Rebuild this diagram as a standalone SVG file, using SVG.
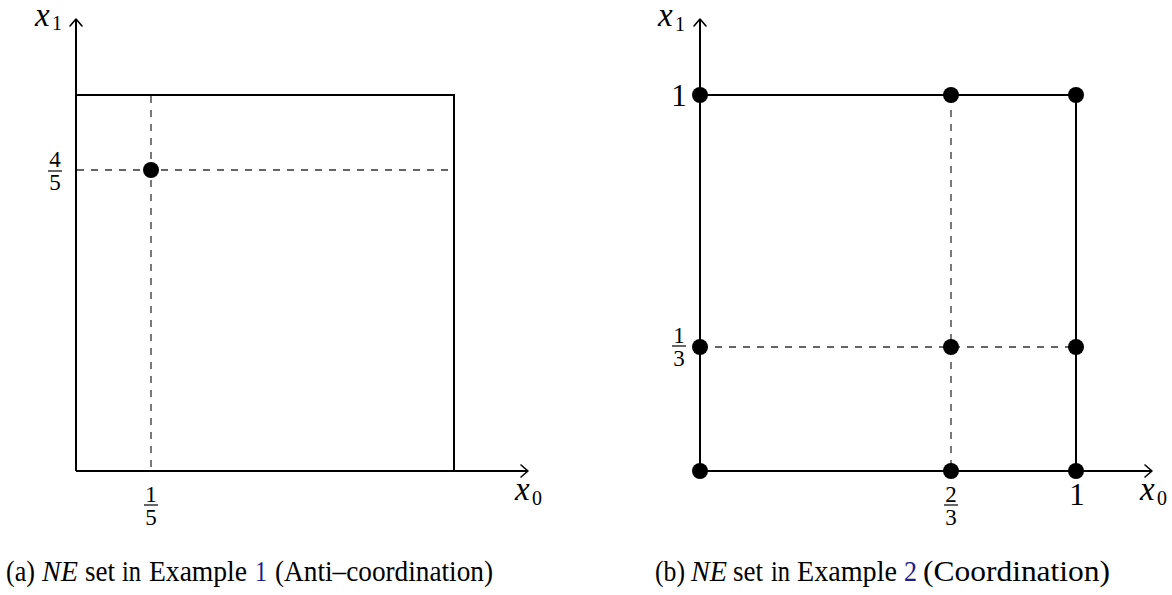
<svg xmlns="http://www.w3.org/2000/svg" width="1172" height="595" viewBox="0 0 1172 595">
<style>
.ax{fill:none;stroke:#000;stroke-width:2}
.arr{fill:none;stroke:#000;stroke-width:1.6;stroke-linecap:round;stroke-linejoin:round}
.dash{fill:none;stroke:#333;stroke-width:1.3;stroke-dasharray:7 7}
.dot{fill:#000}
.m{font-family:"Liberation Serif",serif;font-size:31px;fill:#000}
.mi{font-family:"Liberation Serif",serif;font-size:33px;font-style:italic;fill:#000}
.sub{font-family:"Liberation Serif",serif;font-size:20px;fill:#000}
.fr{font-family:"Liberation Serif",serif;font-size:23px;fill:#000;text-anchor:middle}
.bar{stroke:#000;stroke-width:1.2}
.cap{font-family:"Liberation Serif",serif;font-size:29px;fill:#000}
.it{font-style:italic}
.ref{fill:#1c1c8a}
</style>
<g id="connectors">
<line class="dash" x1="151" y1="96" x2="151" y2="470"/>
<line class="dash" x1="77" y1="170" x2="453" y2="170"/>
<path class="ax" d="M76 471 V20"/>
<path class="ax" d="M76 471 H527"/>
<path class="ax" d="M76 95 H454 V471"/>
<path class="arr" d="M70 26 L76 19 L82 26"/>
<path class="arr" d="M521 465 L528 471 L521 477"/>
<line class="dash" x1="951" y1="96" x2="951" y2="470"/>
<line class="dash" x1="701" y1="347" x2="1075" y2="347"/>
<path class="ax" d="M700 471 V20"/>
<path class="ax" d="M700 471 H1151"/>
<path class="ax" d="M700 95 H1076 V471"/>
<path class="arr" d="M694 26 L700 19 L706 26"/>
<path class="arr" d="M1145 465 L1152 471 L1145 477"/>
</g>
<g id="panel-a">
<g id="a-x1"><text class="mi" x="35" y="26">x</text><text class="sub" x="52" y="30">1</text></g>
<g id="a-x0"><text class="mi" x="515" y="500">x</text><text class="sub" x="532" y="505">0</text></g>
<g id="a-frac45"><text class="fr" x="55" y="167">4</text><line class="bar" x1="48" y1="171" x2="62" y2="171"/><text class="fr" x="55" y="190">5</text></g>
<g id="a-frac15"><text class="fr" x="151" y="502">1</text><line class="bar" x1="144" y1="505" x2="158" y2="505"/><text class="fr" x="151" y="525">5</text></g>
<g id="a-ne"><circle class="dot" cx="151" cy="170" r="8"/></g>
</g>
<g id="panel-b">
<g id="b-x1"><text class="mi" x="658" y="26">x</text><text class="sub" x="675" y="31">1</text></g>
<g id="b-x0"><text class="mi" x="1140" y="500">x</text><text class="sub" x="1157" y="505">0</text></g>
<g id="b-one-y"><text class="m" x="679" y="106" text-anchor="middle">1</text></g>
<g id="b-one-x"><text class="m" x="1077" y="505" text-anchor="middle">1</text></g>
<g id="b-frac13"><text class="fr" x="679" y="343">1</text><line class="bar" x1="672" y1="346" x2="686" y2="346"/><text class="fr" x="679" y="366">3</text></g>
<g id="b-frac23"><text class="fr" x="951" y="502">2</text><line class="bar" x1="944" y1="505" x2="958" y2="505"/><text class="fr" x="951" y="525">3</text></g>
<g id="b-ne">
<circle class="dot" cx="700" cy="95" r="8"/><circle class="dot" cx="951" cy="95" r="8"/><circle class="dot" cx="1076" cy="95" r="8"/>
<circle class="dot" cx="700" cy="347" r="8"/><circle class="dot" cx="951" cy="347" r="8"/><circle class="dot" cx="1076" cy="347" r="8"/>
<circle class="dot" cx="700" cy="471" r="8"/><circle class="dot" cx="951" cy="471" r="8"/><circle class="dot" cx="1076" cy="471" r="8"/>
</g>
</g>
<g id="caption-a">
<text class="cap" x="6" y="581" textLength="29" lengthAdjust="spacingAndGlyphs">(a)</text>
<text class="cap it" x="42" y="581" textLength="36" lengthAdjust="spacingAndGlyphs">NE</text>
<text class="cap" x="85" y="581" textLength="30" lengthAdjust="spacingAndGlyphs">set</text>
<text class="cap" x="122" y="581" textLength="19" lengthAdjust="spacingAndGlyphs">in</text>
<text class="cap" x="149" y="581" textLength="98" lengthAdjust="spacingAndGlyphs">Example</text>
<text class="cap ref" x="255" y="581" textLength="12" lengthAdjust="spacingAndGlyphs">1</text>
<text class="cap" x="275" y="581" textLength="218" lengthAdjust="spacingAndGlyphs">(Anti–coordination)</text>
</g>
<g id="caption-b">
<text class="cap" x="655" y="581" textLength="30" lengthAdjust="spacingAndGlyphs">(b)</text>
<text class="cap it" x="691" y="581" textLength="36" lengthAdjust="spacingAndGlyphs">NE</text>
<text class="cap" x="733" y="581" textLength="30" lengthAdjust="spacingAndGlyphs">set</text>
<text class="cap" x="771" y="581" textLength="19" lengthAdjust="spacingAndGlyphs">in</text>
<text class="cap" x="797" y="581" textLength="100" lengthAdjust="spacingAndGlyphs">Example</text>
<text class="cap ref" x="904" y="581" textLength="13" lengthAdjust="spacingAndGlyphs">2</text>
<text class="cap" x="923" y="581" textLength="187" lengthAdjust="spacingAndGlyphs">(Coordination)</text>
</g>
</svg>
